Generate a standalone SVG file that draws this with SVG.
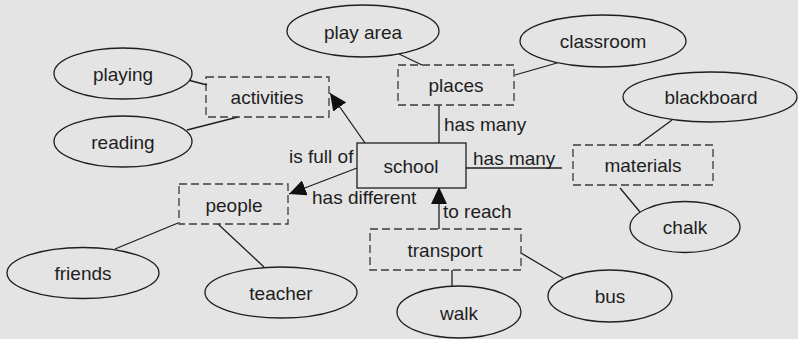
<svg xmlns="http://www.w3.org/2000/svg" width="798" height="339" viewBox="0 0 798 339">
  <style>
    text { font-family: "Liberation Sans", Arial, Helvetica, sans-serif; font-size: 19px; fill: #1e1e1e; }
    .c { text-anchor: middle; dominant-baseline: central; }
    .oval { fill: #e4e4e4; stroke: #1e1e1e; stroke-width: 1.3; }
    .concept { fill: none; stroke: #3a3a3a; stroke-width: 1.3; stroke-dasharray: 8 4; }
    .core { fill: #e4e4e4; stroke: #1e1e1e; stroke-width: 1.3; }
    .link { stroke: #1e1e1e; stroke-width: 1.3; fill: none; }
  </style>
  <defs>
    <marker id="head" markerUnits="userSpaceOnUse" markerWidth="18" markerHeight="16" refX="17" refY="8" orient="auto">
      <path d="M0,0 L17,8 L0,16 z" fill="#111"/>
    </marker>
  </defs>

  <rect width="798" height="339" fill="#e4e4e4"/>

  <g id="connectors">
    <line class="link" x1="365" y1="143" x2="330" y2="93" marker-end="url(#head)"/>
    <line class="link" x1="357" y1="168" x2="289" y2="194" marker-end="url(#head)"/>
    <line class="link" x1="439" y1="229" x2="439" y2="187" marker-end="url(#head)"/>
    <line class="link" x1="439" y1="105" x2="439" y2="143"/>
    <line class="link" x1="466" y1="168" x2="562" y2="168"/>
    <line class="link" x1="397" y1="53" x2="422" y2="65"/>
    <line class="link" x1="557" y1="63" x2="515" y2="75"/>
    <line class="link" x1="188" y1="80" x2="207" y2="85"/>
    <line class="link" x1="187" y1="130" x2="238" y2="117"/>
    <line class="link" x1="672" y1="120" x2="638" y2="145"/>
    <line class="link" x1="620" y1="188" x2="640" y2="212"/>
    <line class="link" x1="115" y1="249" x2="178" y2="223"/>
    <line class="link" x1="218" y1="224" x2="264" y2="267"/>
    <line class="link" x1="452" y1="270" x2="452" y2="287"/>
    <line class="link" x1="521" y1="253" x2="563" y2="278"/>
    <text x="289" y="163">is full of</text>
    <text x="312" y="204">has different</text>
    <text x="444" y="131">has many</text>
    <text x="473" y="165">has many</text>
    <text x="443" y="218">to reach</text>
  </g>

  <g id="school">
    <rect class="core" x="357" y="143" width="109" height="45"/>
    <text class="c" x="411" y="166">school</text>
  </g>

  <g id="places">
    <rect class="concept" x="398" y="65" width="116" height="40"/>
    <text class="c" x="456" y="85">places</text>
  </g>
  <g id="activities">
    <rect class="concept" x="206" y="77" width="123" height="40"/>
    <text class="c" x="267" y="97">activities</text>
  </g>
  <g id="materials">
    <rect class="concept" x="573" y="145" width="140" height="40"/>
    <text class="c" x="643" y="165">materials</text>
  </g>
  <g id="people">
    <rect class="concept" x="179" y="184" width="109" height="40"/>
    <text class="c" x="234" y="205">people</text>
  </g>
  <g id="transport">
    <rect class="concept" x="370" y="229" width="151" height="41"/>
    <text class="c" x="445" y="250">transport</text>
  </g>

  <g id="play-area">
    <ellipse class="oval" cx="363" cy="31" rx="76" ry="26"/>
    <text class="c" x="363" y="32">play area</text>
  </g>
  <g id="classroom">
    <ellipse class="oval" cx="603" cy="41" rx="83" ry="26"/>
    <text class="c" x="603" y="41">classroom</text>
  </g>
  <g id="blackboard">
    <ellipse class="oval" cx="710" cy="97" rx="87" ry="25"/>
    <text class="c" x="711" y="97">blackboard</text>
  </g>
  <g id="playing">
    <ellipse class="oval" cx="123" cy="73.5" rx="69" ry="25.5"/>
    <text class="c" x="123" y="74">playing</text>
  </g>
  <g id="reading">
    <ellipse class="oval" cx="123" cy="141.5" rx="69" ry="25.5"/>
    <text class="c" x="123" y="142">reading</text>
  </g>
  <g id="chalk">
    <ellipse class="oval" cx="685" cy="227" rx="55" ry="25.5"/>
    <text class="c" x="685" y="227">chalk</text>
  </g>
  <g id="friends">
    <ellipse class="oval" cx="83" cy="273" rx="76" ry="25.5"/>
    <text class="c" x="83" y="273">friends</text>
  </g>
  <g id="teacher">
    <ellipse class="oval" cx="281" cy="292.5" rx="76" ry="25.5"/>
    <text class="c" x="281" y="293">teacher</text>
  </g>
  <g id="walk">
    <ellipse class="oval" cx="459" cy="312" rx="62" ry="26"/>
    <text class="c" x="459" y="313">walk</text>
  </g>
  <g id="bus">
    <ellipse class="oval" cx="610" cy="296" rx="62" ry="26"/>
    <text class="c" x="610" y="296">bus</text>
  </g>
</svg>
